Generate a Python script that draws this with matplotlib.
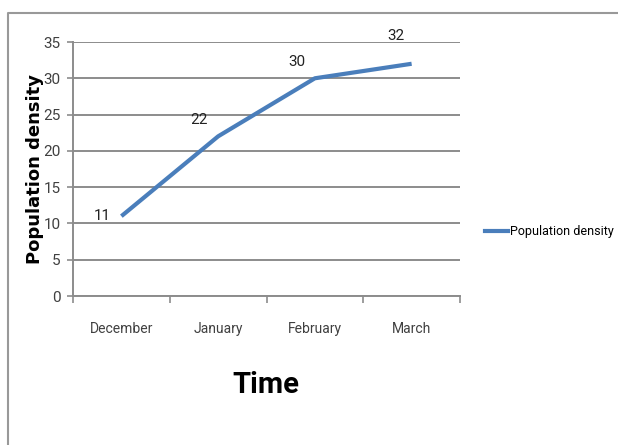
import matplotlib
matplotlib.use("Agg")
import matplotlib.pyplot as plt
from matplotlib.lines import Line2D

months = ["December", "January", "February", "March"]
density = [11, 22, 30, 32]
label_offsets = [(-14, 0), (-14, 12), (-13, 12), (-11, 20)]
y_ticks = [0, 5, 10, 15, 20, 25, 30, 35]

narrow = ["Roboto", "DejaVu Sans"]
text_color = "#404040"
grid_color = "#8c8c8c"
line_color = "#4a7ebb"

fig = plt.figure(figsize=(6.18, 4.45), dpi=100)
ax = fig.add_axes([73 / 618, 1 - 296 / 445, (460 - 73) / 618, (296 - 42) / 445])

x = list(range(len(months)))
ax.plot(x, density, color=line_color, linewidth=3.0, solid_capstyle="butt",
        label="Population density", zorder=3)

for xi, v, off in zip(x, density, label_offsets):
    ax.annotate(str(v), (xi, v), xytext=off, textcoords="offset points",
                ha="center", va="center", fontsize=11, family=narrow, color="#222222")

ax.set_xlim(-0.5, len(months) - 0.5)
ax.set_ylim(0, 35)
ax.set_yticks(y_ticks)
ax.set_yticklabels([str(t) for t in y_ticks], family=narrow, fontsize=11, color=text_color)
ax.set_xticks(x)
ax.set_xticklabels(months, family=narrow, fontsize=10, color=text_color)
ax.set_xticks([i - 0.5 for i in range(len(months) + 1)], minor=True)

ax.tick_params(axis="x", which="major", length=0, pad=19)
ax.tick_params(axis="x", which="minor", length=5, width=1.2, color=grid_color, direction="out")
ax.tick_params(axis="y", length=4, width=1.2, color=grid_color, direction="out", pad=5)

ax.yaxis.grid(True, color=grid_color, linewidth=1.4)
ax.set_axisbelow(True)
for side in ["top", "right"]:
    ax.spines[side].set_visible(False)
for side in ["left", "bottom"]:
    ax.spines[side].set_color(grid_color)
    ax.spines[side].set_linewidth(1.4)

fig.text(35 / 618, 1 - 169 / 445, "Population density", rotation=90, ha="center", va="center",
         fontsize=13, fontweight="bold", family="DejaVu Sans", color="black")
fig.text(266 / 618, 1 - 385 / 445, "Time", ha="center", va="center",
         fontsize=21, fontweight="bold", family=narrow, color="black")

fig.legend(handles=[Line2D([0], [0], color=line_color, linewidth=3.0)],
           labels=["Population density"], loc="center left",
           bbox_to_anchor=(474 / 618, 1 - 232 / 445), frameon=False,
           handlelength=1.8, handletextpad=0.15,
           prop={"family": narrow, "size": 9})

# outer chart border (only left and top edges are visible in the crop)
fig.add_artist(Line2D([8 / 618, 8 / 618, 1.0], [0.0, 1 - 13 / 445, 1 - 13 / 445],
                      transform=fig.transFigure, color="#999999", linewidth=1.5))

fig.savefig("out.png", dpi=100)
